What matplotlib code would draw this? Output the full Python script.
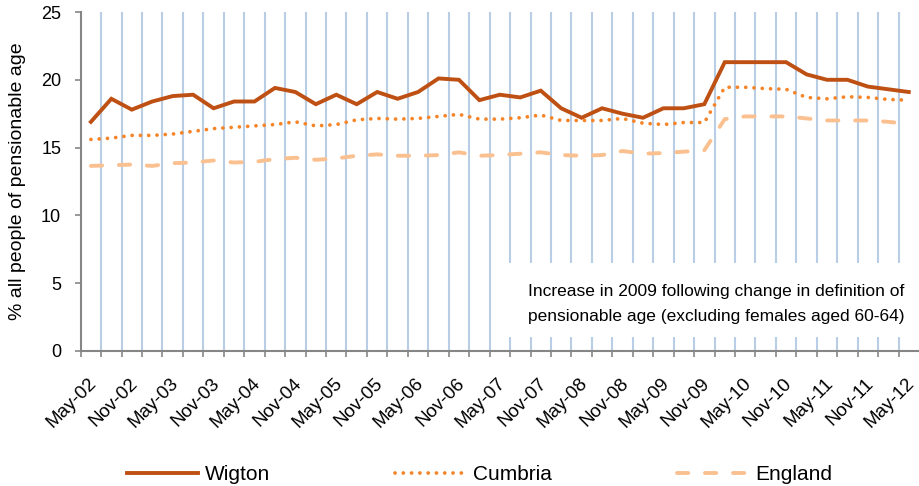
import numpy as np
import matplotlib
matplotlib.use("Agg")
import matplotlib.pyplot as plt
import matplotlib.transforms as mtransforms
from matplotlib.patches import Rectangle

plt.rcParams['font.family'] = ['Liberation Sans', 'DejaVu Sans']

# quarterly, May-02 .. May-12
quarters = []
for y in range(2, 12):
    for m in ['May', 'Aug', 'Nov', 'Feb']:
        yy = y + 1 if m == 'Feb' else y
        quarters.append(f"{m}-{yy:02d}")
quarters.append('May-12')

wigton = [16.9, 18.6, 17.8, 18.4, 18.8, 18.9, 17.9, 18.4, 18.4, 19.4,
          19.1, 18.2, 18.9, 18.2, 19.1, 18.6, 19.1, 20.1, 20.0, 18.5,
          18.9, 18.7, 19.2, 17.9, 17.2, 17.9, 17.5, 17.2, 17.9, 17.9,
          18.2, 21.3, 21.3, 21.3, 21.3, 20.4, 20.0, 20.0, 19.5, 19.3,
          19.1]
cumbria = [15.6, 15.7, 15.9, 15.9, 16.0, 16.2, 16.4, 16.5, 16.6, 16.7,
           16.9, 16.6, 16.7, 17.05, 17.15, 17.1, 17.15, 17.3, 17.45, 17.1,
           17.1, 17.2, 17.4, 17.0, 17.0, 17.0, 17.15, 16.8, 16.7, 16.85,
           16.85, 19.45, 19.45, 19.35, 19.3, 18.7, 18.6, 18.75, 18.7, 18.55,
           18.5]
england = [13.65, 13.7, 13.75, 13.65, 13.85, 13.9, 14.05, 13.9, 13.95, 14.15,
           14.25, 14.1, 14.2, 14.4, 14.5, 14.4, 14.4, 14.45, 14.65, 14.4,
           14.45, 14.55, 14.65, 14.45, 14.4, 14.45, 14.75, 14.55, 14.6, 14.7,
           14.8, 17.1, 17.3, 17.3, 17.3, 17.15, 17.0, 17.0, 17.0, 16.9,
           16.75]

note_lines = ["Increase in 2009 following change in definition of",
              "pensionable age (excluding females aged 60-64)"]

grey = '#868686'
x = np.arange(len(quarters))

fig = plt.figure(figsize=(9.19, 4.86), dpi=100)
ax = fig.add_axes([0.0878, 0.2778, 0.9122, 0.6975])

# vertical gridlines between categories
for b in np.arange(0.5, 40, 1.0):
    ax.axvline(b, color='#B9CDE5', lw=1.5, zorder=1)

# note box (white background hides the gridlines)
ax.add_patch(Rectangle((0.50, 0.041), 0.51, 0.219, transform=ax.transAxes,
                       facecolor='white', edgecolor='none', zorder=2, clip_on=False))
for txt, ty in zip(note_lines, [0.175, 0.101]):
    ax.text(0.534, ty, txt, transform=ax.transAxes, fontsize=12.5,
            va='center', ha='left', zorder=3)

l1, = ax.plot(x, wigton, color='#BE5014', lw=2.8, label='Wigton', zorder=5,
              solid_joinstyle='miter')
l2, = ax.plot(x, cumbria, color='#F68428', lw=2.7, label='Cumbria', zorder=5,
              linestyle=(0, (0.01, 2.2)), dash_capstyle='round')
l3, = ax.plot(x, england, color='#FAC090', lw=2.8, label='England', zorder=4,
              linestyle=(0, (2.9, 4.3)), dash_capstyle='round')

ax.set_xlim(-0.5, 40.5)
ax.set_ylim(0, 25)
ax.set_yticks([0, 5, 10, 15, 20, 25])

ax.set_xticks(np.arange(-0.5, 40, 1.0))
ax.set_xticklabels([])
ax.set_xticks(x[::2], minor=True)
ax.set_xticklabels(quarters[::2], minor=True, rotation=45, ha='right',
                   va='top', rotation_mode='anchor', fontsize=13.5)
ax.tick_params(axis='x', which='major', length=4, width=1.2, color=grey, direction='out')
ax.tick_params(axis='x', which='minor', length=0, pad=17)
ax.tick_params(axis='y', length=4, width=1.2, color=grey, labelsize=13, pad=10)

shift = mtransforms.ScaledTranslation(-2 / 72, 0, fig.dpi_scale_trans)
for lab in ax.get_xticklabels(minor=True):
    lab.set_transform(lab.get_transform() + shift)

for s in ['top', 'right']:
    ax.spines[s].set_visible(False)
for s in ['left', 'bottom']:
    ax.spines[s].set_color(grey)
    ax.spines[s].set_linewidth(1.5)

ax.set_ylabel('% all people of pensionable age', fontsize=14)
ax.yaxis.set_label_coords(-0.065, 0.5)

fig.legend(handles=[l1, l2, l3], loc='center', bbox_to_anchor=(0.522, 0.024),
           ncol=3, frameon=False, fontsize=15, handlelength=3.4,
           handletextpad=0.35, columnspacing=6.0)

fig.savefig('out.png', dpi=100)
